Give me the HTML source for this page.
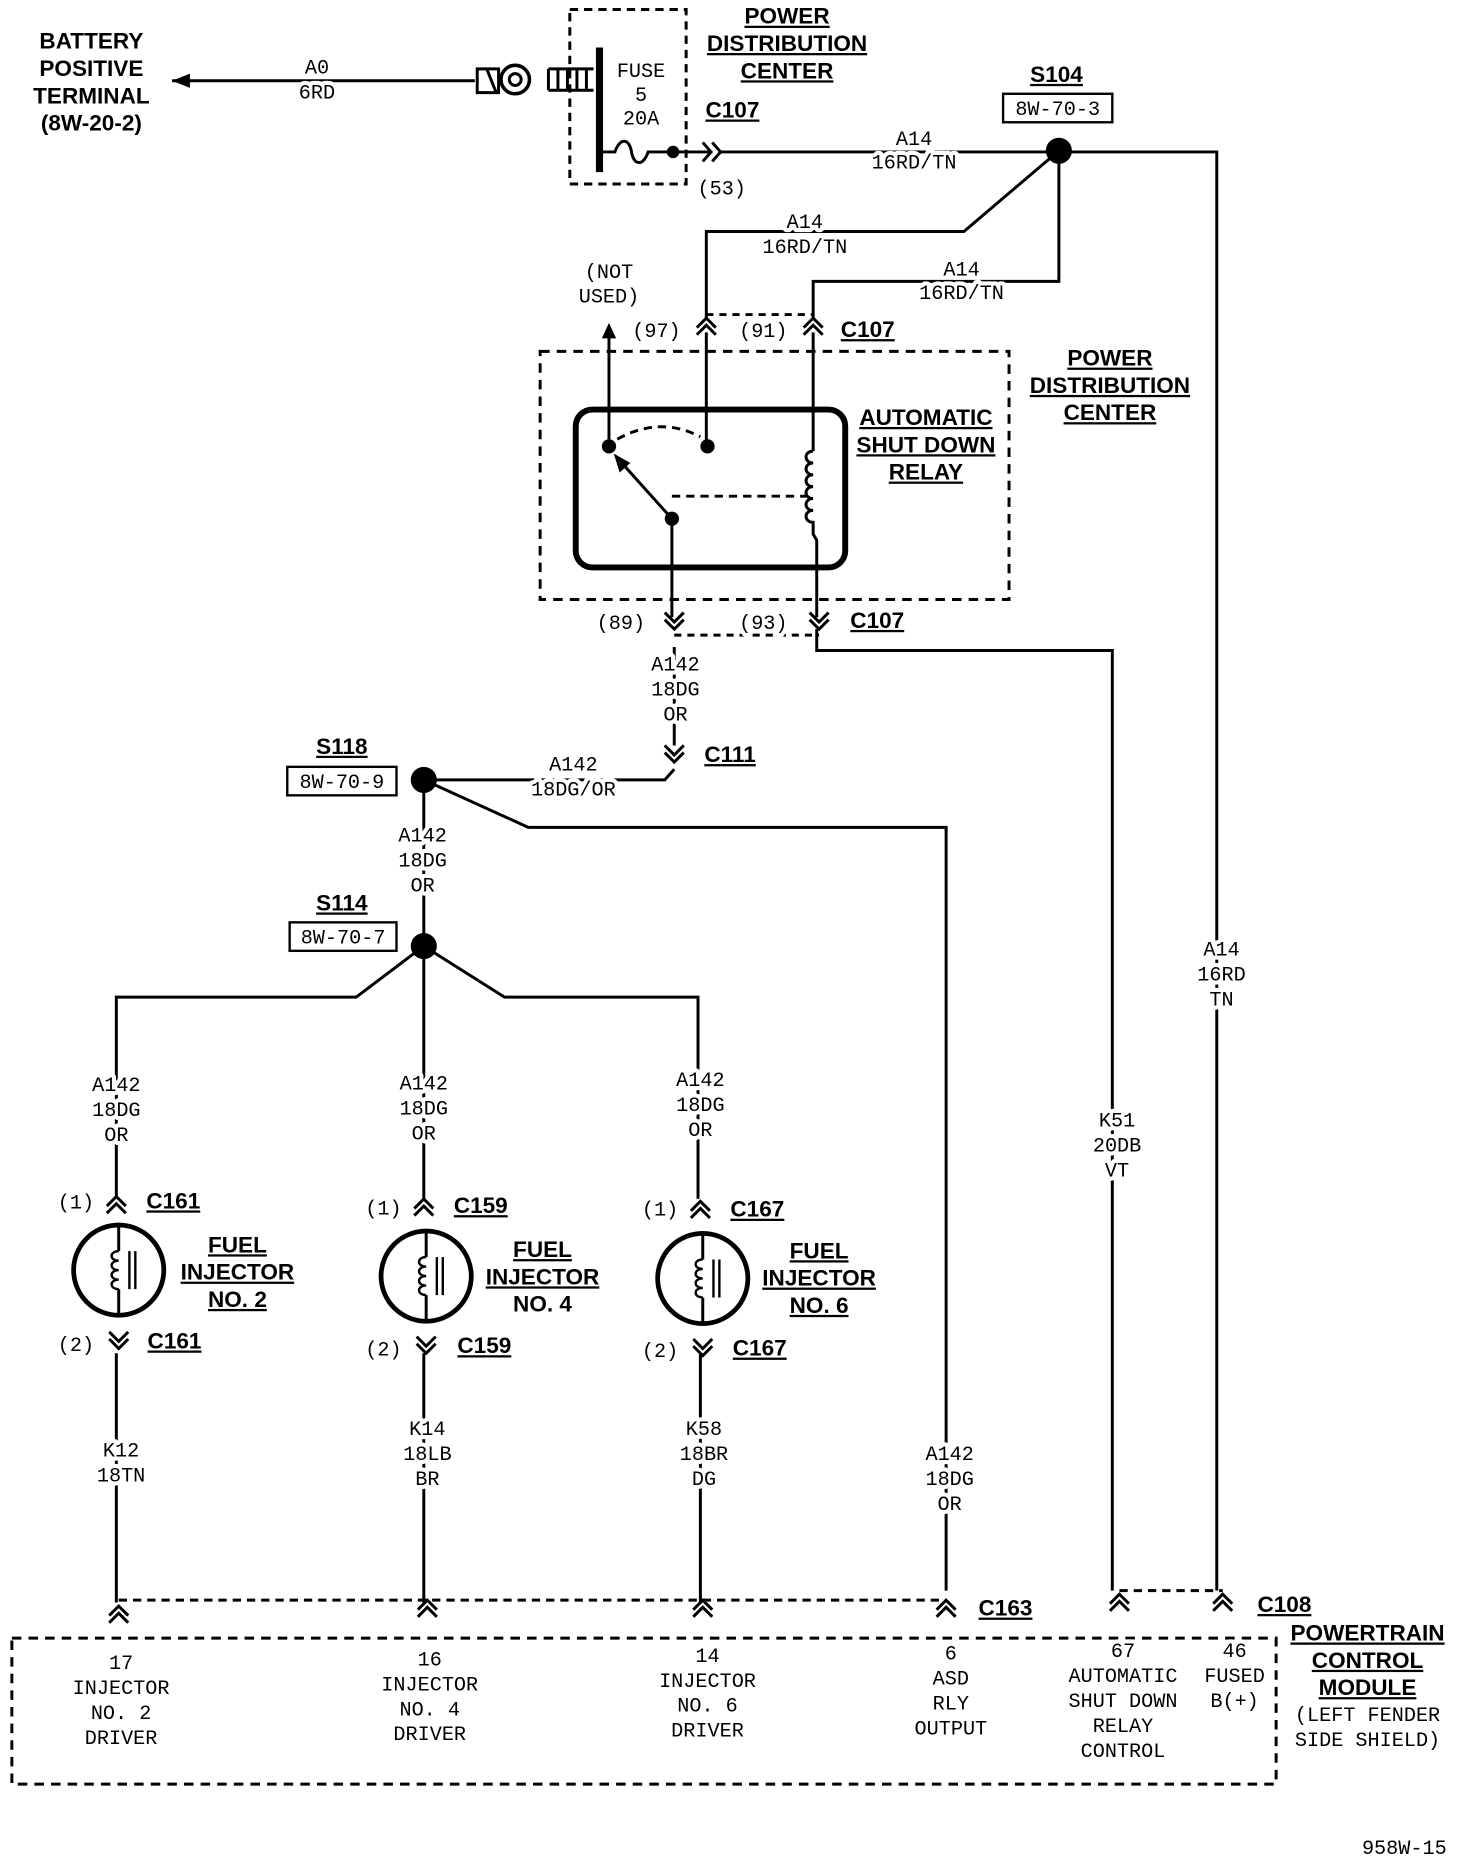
<!DOCTYPE html>
<html><head><style>
html,body{margin:0;padding:0;background:#fff}
svg{display:block}
.m{font-family:"Liberation Mono",monospace;font-size:17px;fill:#000;text-anchor:middle;paint-order:stroke;stroke:#fff;stroke-width:7px;stroke-linejoin:round}
.b{font-family:"Liberation Sans",sans-serif;font-weight:bold;font-size:19px;fill:#000;text-anchor:middle;text-decoration:underline}
.bn{font-family:"Liberation Sans",sans-serif;font-weight:bold;font-size:19px;fill:#000;text-anchor:middle}
</style></head><body>
<svg width="1472" height="1872" viewBox="0 0 1240 1577" preserveAspectRatio="none" xmlns="http://www.w3.org/2000/svg">
<defs>
<g id="up"><polyline points="-8,6 0,-2 8,6" fill="none" stroke="#000" stroke-width="2.5"/><polyline points="-8,12 0,4 8,12" fill="none" stroke="#000" stroke-width="2.5"/></g>
<g id="dn"><polyline points="-8,-6 0,2 8,-6" fill="none" stroke="#000" stroke-width="2.5"/><polyline points="-8,-12 0,-4 8,-12" fill="none" stroke="#000" stroke-width="2.5"/></g>
<g id="inj">
<circle cx="0" cy="0" r="38" fill="none" stroke="#000" stroke-width="4"/>
<path d="M0,-38 V-16 M0,16 V38" stroke="#000" stroke-width="2.5"/>
<path d="M0,-16 c-8,0 -8,8 0,8 c-8,0 -8,8 0,8 c-8,0 -8,8 0,8 c-8,0 -8,8 0,8" fill="none" stroke="#000" stroke-width="2"/>
<path d="M9,-16 V16 M14,-16 V16" stroke="#000" stroke-width="2"/>
</g>
</defs>
<g stroke="#000" stroke-width="2.5" fill="none">
<path d="M145,68 H400"/>
<polygon points="145,68 160,62 160,74" fill="#000" stroke="none"/>
<path d="M402,58 H420 V78 H402 Z M410,58 L418,78"/>
<circle cx="434" cy="67" r="12" stroke-width="3"/><circle cx="434" cy="67" r="5"/>
<path d="M462,58 H500 M462,76 H500 M462,58 V76 M470,58 V76 M478,58 V76 M486,58 V76 M494,58 V76"/>
<rect x="480" y="8" width="98" height="147" stroke-dasharray="7,5"/>
<path d="M505,40 V145" stroke-width="6"/>
<path d="M505,128 H518 c4,-12 12,-12 14,0 c2,12 10,12 14,0 H567 H600"/>
<circle cx="567" cy="128" r="4" fill="#000"/>
<path d="M592,120 L599,128 L592,136 M600,120 L607,128 L600,136"/>
<path d="M607,128 H892 H1025 V1340"/>
<path d="M892,127 L812,195 H595 V270"/>
<path d="M892,127 V237 H685 V270"/>
<path d="M513,370 V280"/>
<polygon points="513,272 507,285 519,285" fill="#000" stroke="none"/>
<path d="M595,265 H685" stroke-dasharray="6,5"/>
<rect x="455" y="296" width="395" height="209" stroke-dasharray="8,6"/>
<rect x="485" y="345" width="227" height="133" rx="14" stroke-width="5"/>
<path d="M595,280 V376 M685,280 V380"/>
<path d="M520,370 Q556,350 590,368" stroke-dasharray="7,5"/>
<path d="M566,437 L522,388"/>
<polygon points="517,382 522,398 531,390" fill="#000" stroke="none"/>
<path d="M566,418 H680" stroke-dasharray="7,5"/>
<path d="M685,380 c-8,0 -8,10 0,10 c-8,0 -8,10 0,10 c-8,0 -8,10 0,10 c-8,0 -8,10 0,10 c-8,0 -8,10 0,10 c-8,0 -8,10 0,10 V450 L688,455 V520"/>
<path d="M566,437 V520 M688,530 V548 H937 V1340"/>
<path d="M568,535 H690" stroke-dasharray="6,5"/>
<path d="M568,545 V628 M568,648 L560,657 H357"/>
<path d="M357,657 L445,697 H797 V1340"/>
<path d="M357,657 V797"/>
<path d="M357,797 L300,840 H98 V1010 M357,797 V1010 M357,797 L425,840 H588 V1010"/>
<path d="M98,1140 V1350 M357,1140 V1350 M590,1140 V1350"/>
<path d="M100,1348 H797" stroke-dasharray="7,5"/>
<path d="M943,1340 H1030" stroke-dasharray="7,5"/>
<path d="M10,1380 H1075 V1503 H10 Z" stroke-dasharray="8,6"/>
</g>
<g fill="#000">
<circle cx="892" cy="127" r="11"/><circle cx="513" cy="376" r="6"/><circle cx="596" cy="376" r="6"/><circle cx="566" cy="437" r="6"/>
<circle cx="357" cy="657" r="11"/><circle cx="357" cy="797" r="11"/>
</g>
<use href="#up" x="595" y="270"/><use href="#up" x="685" y="270"/>
<use href="#dn" x="568" y="528"/><use href="#dn" x="690" y="528"/>
<use href="#dn" x="568" y="640"/>
<use href="#up" x="98" y="1010"/><use href="#up" x="357" y="1012"/><use href="#up" x="590" y="1014"/>
<use href="#inj" x="100" y="1070"/><use href="#inj" x="359" y="1075"/><use href="#inj" x="592" y="1077"/>
<use href="#dn" x="100" y="1134"/><use href="#dn" x="359" y="1138"/><use href="#dn" x="592" y="1140"/>
<use href="#up" x="100" y="1355"/><use href="#up" x="360" y="1350"/><use href="#up" x="592" y="1350"/><use href="#up" x="797" y="1350"/><use href="#up" x="943" y="1345"/><use href="#up" x="1030" y="1345"/>
<g stroke="#000" stroke-width="2" fill="none"><rect x="845" y="79" width="92" height="24"/><rect x="242" y="646" width="92" height="24"/><rect x="244" y="777" width="90" height="24"/></g>
<text class="bn" x="77" y="41">BATTERY</text><text class="bn" x="77" y="64">POSITIVE</text><text class="bn" x="77" y="87">TERMINAL</text><text class="bn" x="77" y="110">(8W-20-2)</text>
<text class="m" x="267" y="62">A0</text><text class="m" x="267" y="83">6RD</text>
<text class="m" x="540" y="65">FUSE</text><text class="m" x="540" y="85">5</text><text class="m" x="540" y="105">20A</text>
<text class="b" x="663" y="20">POWER</text><text class="b" x="663" y="43">DISTRIBUTION</text><text class="b" x="663" y="66">CENTER</text>
<text class="b" x="617" y="99">C107</text><text class="m" x="608" y="164">(53)</text>
<text class="m" x="770" y="122">A14</text><text class="m" x="770" y="142">16RD/TN</text>
<text class="b" x="890" y="69">S104</text><text class="m" x="891" y="97">8W-70-3</text>
<text class="m" x="678" y="192">A14</text><text class="m" x="678" y="213">16RD/TN</text>
<text class="m" x="810" y="232">A14</text><text class="m" x="810" y="252">16RD/TN</text>
<text class="m" x="513" y="234">(NOT</text><text class="m" x="513" y="255">USED)</text>
<text class="m" x="553" y="284">(97)</text><text class="m" x="643" y="284">(91)</text><text class="b" x="731" y="284">C107</text>
<text class="b" x="780" y="358">AUTOMATIC</text><text class="b" x="780" y="381">SHUT DOWN</text><text class="b" x="780" y="404">RELAY</text>
<text class="b" x="935" y="308">POWER</text><text class="b" x="935" y="331">DISTRIBUTION</text><text class="b" x="935" y="354">CENTER</text>
<text class="m" x="523" y="530">(89)</text><text class="m" x="643" y="530">(93)</text><text class="b" x="739" y="529">C107</text>
<text class="m" x="569" y="565">A142</text><text class="m" x="569" y="586">18DG</text><text class="m" x="569" y="607">OR</text>
<text class="b" x="615" y="642">C111</text>
<text class="m" x="483" y="649">A142</text><text class="m" x="483" y="670">18DG/OR</text>
<text class="b" x="288" y="635">S118</text><text class="m" x="288" y="664">8W-70-9</text>
<text class="m" x="356" y="709">A142</text><text class="m" x="356" y="730">18DG</text><text class="m" x="356" y="751">OR</text>
<text class="b" x="288" y="767">S114</text><text class="m" x="289" y="795">8W-70-7</text>
<text class="m" x="98" y="919">A142</text><text class="m" x="98" y="940">18DG</text><text class="m" x="98" y="961">OR</text>
<text class="m" x="357" y="918">A142</text><text class="m" x="357" y="939">18DG</text><text class="m" x="357" y="960">OR</text>
<text class="m" x="590" y="915">A142</text><text class="m" x="590" y="936">18DG</text><text class="m" x="590" y="957">OR</text>
<text class="m" x="64" y="1018">(1)</text><text class="b" x="146" y="1018">C161</text>
<text class="m" x="323" y="1023">(1)</text><text class="b" x="405" y="1022">C159</text>
<text class="m" x="556" y="1024">(1)</text><text class="b" x="638" y="1025">C167</text>
<text class="b" x="200" y="1055">FUEL</text><text class="b" x="200" y="1078">INJECTOR</text><text class="b" x="200" y="1101">NO. 2</text>
<text class="b" x="457" y="1059">FUEL</text><text class="b" x="457" y="1082">INJECTOR</text><text class="bn" x="457" y="1105">NO. 4</text>
<text class="b" x="690" y="1060">FUEL</text><text class="b" x="690" y="1083">INJECTOR</text><text class="b" x="690" y="1106">NO. 6</text>
<text class="m" x="64" y="1138">(2)</text><text class="b" x="147" y="1136">C161</text>
<text class="m" x="323" y="1142">(2)</text><text class="b" x="408" y="1140">C159</text>
<text class="m" x="556" y="1143">(2)</text><text class="b" x="640" y="1142">C167</text>
<text class="m" x="102" y="1227">K12</text><text class="m" x="102" y="1248">18TN</text>
<text class="m" x="360" y="1209">K14</text><text class="m" x="360" y="1230">18LB</text><text class="m" x="360" y="1251">BR</text>
<text class="m" x="593" y="1209">K58</text><text class="m" x="593" y="1230">18BR</text><text class="m" x="593" y="1251">DG</text>
<text class="m" x="800" y="1230">A142</text><text class="m" x="800" y="1251">18DG</text><text class="m" x="800" y="1272">OR</text>
<text class="m" x="941" y="949">K51</text><text class="m" x="941" y="970">20DB</text><text class="m" x="941" y="991">VT</text>
<text class="m" x="1029" y="805">A14</text><text class="m" x="1029" y="826">16RD</text><text class="m" x="1029" y="847">TN</text>
<text class="b" x="847" y="1361">C163</text><text class="b" x="1082" y="1358">C108</text>
<text class="m" x="102" y="1406">17</text><text class="m" x="102" y="1427">INJECTOR</text><text class="m" x="102" y="1448">NO. 2</text><text class="m" x="102" y="1469">DRIVER</text>
<text class="m" x="362" y="1403">16</text><text class="m" x="362" y="1424">INJECTOR</text><text class="m" x="362" y="1445">NO. 4</text><text class="m" x="362" y="1466">DRIVER</text>
<text class="m" x="596" y="1400">14</text><text class="m" x="596" y="1421">INJECTOR</text><text class="m" x="596" y="1442">NO. 6</text><text class="m" x="596" y="1463">DRIVER</text>
<text class="m" x="801" y="1398">6</text><text class="m" x="801" y="1419">ASD</text><text class="m" x="801" y="1440">RLY</text><text class="m" x="801" y="1461">OUTPUT</text>
<text class="m" x="946" y="1396">67</text><text class="m" x="946" y="1417">AUTOMATIC</text><text class="m" x="946" y="1438">SHUT DOWN</text><text class="m" x="946" y="1459">RELAY</text><text class="m" x="946" y="1480">CONTROL</text>
<text class="m" x="1040" y="1396">46</text><text class="m" x="1040" y="1417">FUSED</text><text class="m" x="1040" y="1438">B(+)</text>
<text class="b" x="1152" y="1382">POWERTRAIN</text><text class="b" x="1152" y="1405">CONTROL</text><text class="b" x="1152" y="1428">MODULE</text>
<text class="m" x="1152" y="1450">(LEFT FENDER</text><text class="m" x="1152" y="1471">SIDE SHIELD)</text>
<text class="m" x="1183" y="1562">958W-15</text>
</svg>
</body></html>
